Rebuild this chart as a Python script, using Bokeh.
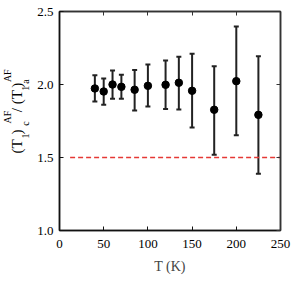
import math
from bokeh.plotting import figure
from bokeh.layouts import row
from bokeh.core.properties import value
from bokeh.models import (ColumnDataSource, Whisker, TeeHead, LinearAxis,
                          FixedTicker, NumeralTickFormatter, CustomJSTickFormatter)
from bokeh.embed import file_html
from bokeh.resources import INLINE

# Data
temperature = [40, 50, 60, 70, 85, 100, 120, 135, 150, 175, 200, 225]
ratio = [1.973, 1.952, 2.000, 1.984, 1.964, 1.991, 1.998, 2.012, 1.957, 1.827, 2.023, 1.792]
err_upper = [2.064, 2.041, 2.096, 2.066, 2.100, 2.137, 2.164, 2.190, 2.210, 2.125, 2.397, 2.194]
err_lower = [1.884, 1.861, 1.902, 1.902, 1.822, 1.849, 1.833, 1.829, 1.705, 1.518, 1.653, 1.388]
reference_level = 1.5
reference_start = 12
x_ticks = [0, 50, 100, 150, 200, 250]
y_ticks = [1.0, 1.5, 2.0, 2.5]

# y-axis title pieces: (T1)c^AF / (T1)a^AF
label_text = ["(T", "1", ")", "c", "AF", "/", "(T", "1", ")", "a", "AF"]
label_role = ["main", "sub", "main", "sub", "sup", "main", "main", "sub", "main", "sub", "sup"]

FONT = "Liberation Serif"
H = 276
SIDE_W = 32

# ---- main plot ----
p = figure(width=292 - SIDE_W, height=H, x_range=(0, 250), y_range=(1.0, 2.5),
           output_backend="svg", toolbar_location=None,
           min_border_left=59 - SIDE_W, min_border_top=11, min_border_right=12,
           min_border_bottom=46)
p.grid.visible = False
p.outline_line_color = "#222222"
p.outline_line_width = 1.5

for ax in [p.xaxis[0], p.yaxis[0]]:
    ax.major_tick_in = 4
    ax.major_tick_out = 0
    ax.minor_tick_in = 2
    ax.minor_tick_out = 0
    ax.axis_line_width = 1.5
    ax.axis_line_color = "#111111"
    ax.major_tick_line_color = "#111111"
    ax.minor_tick_line_color = "#111111"
    ax.major_label_text_font = FONT
    ax.major_label_text_font_size = "13px"
    ax.major_label_text_color = "black"

p.xaxis[0].ticker = FixedTicker(ticks=x_ticks, num_minor_ticks=5)
p.yaxis[0].ticker = FixedTicker(ticks=y_ticks, num_minor_ticks=5)
p.yaxis[0].formatter = NumeralTickFormatter(format="0.0")
p.xaxis.major_label_standoff = 9
p.yaxis.major_label_standoff = 6

p.xaxis.axis_label = "T (K)"
p.xaxis.axis_label_text_font = FONT
p.xaxis.axis_label_text_font_style = "normal"
p.xaxis.axis_label_text_font_size = "14px"
p.xaxis.axis_label_standoff = 8

# mirror axes (ticks only, no labels)
for loc in ["right", "above"]:
    ax = LinearAxis(formatter=CustomJSTickFormatter(code="return ''"))
    ax.ticker = FixedTicker(ticks=y_ticks if loc == "right" else x_ticks, num_minor_ticks=5)
    ax.major_tick_in = 4
    ax.major_tick_out = 0
    ax.minor_tick_in = 2
    ax.minor_tick_out = 0
    ax.axis_line_width = 1.5
    ax.axis_line_color = "#333333"
    ax.major_tick_line_color = "#333333"
    ax.minor_tick_line_color = "#333333"
    ax.major_label_standoff = 0
    p.add_layout(ax, loc)

p.line(x=[reference_start, x_ticks[-1]], y=[reference_level, reference_level],
       line_color="#e53935", line_width=1.4, line_dash="5 3")

src = ColumnDataSource(dict(x=temperature, y=ratio, upper=err_upper, lower=err_lower))
w = Whisker(base="x", upper="upper", lower="lower", source=src, dimension="height",
            line_color="#222222", line_width=2,
            upper_head=TeeHead(size=5, line_color="#222222", line_width=2),
            lower_head=TeeHead(size=5, line_color="#222222", line_width=2))
p.add_layout(w)
p.scatter(x="x", y="y", source=src, size=7.5, color="black")

# ---- side strip holding the rotated y-axis title ----
side = figure(width=SIDE_W, height=H, x_range=(0, SIDE_W), y_range=(0, H),
              output_backend="svg", toolbar_location=None,
              x_axis_location=None, y_axis_location=None,
              min_border_left=0, min_border_right=0, min_border_top=0, min_border_bottom=0)
side.grid.visible = False
side.outline_line_color = None

# layout of the title pieces (page pixel positions)
piece_start = [179, 160, 155, 144, 141, 127, 117, 100, 96, 91, 89]
role_x = {"main": 16, "sub": 25, "sup": 7}
role_size = {"main": "15px", "sub": "10px", "sup": "10px"}
tsrc = ColumnDataSource(dict(
    x=[role_x[r] for r in label_role],
    y=[H - s for s in piece_start],
    text=label_text,
    size=[role_size[r] for r in label_role],
))
side.text(x="x", y="y", text="text", source=tsrc, angle=math.pi / 2,
          text_align="left", text_baseline="middle", text_font=value(FONT),
          text_font_size="size", text_color="black")

layout = row(side, p, spacing=0)
open("out.html", "w").write(file_html(layout, INLINE))
